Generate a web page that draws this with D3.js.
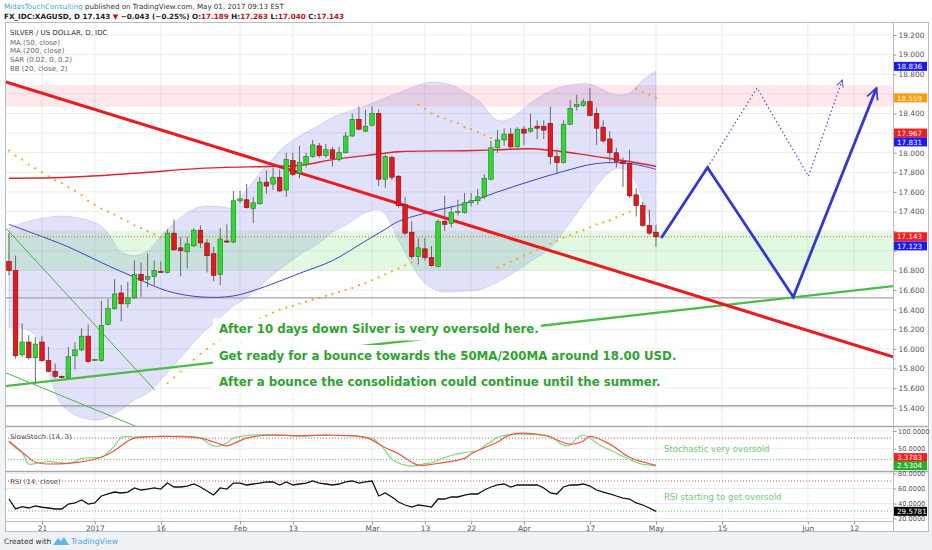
<!DOCTYPE html>
<html>
<head>
<meta charset="utf-8">
<script src="https://cdn.jsdelivr.net/npm/d3@7/dist/d3.min.js"></script>
<style>
body { margin: 0; background: #ffffff; }
svg { display: block; font-family: "DejaVu Sans", Verdana, sans-serif; }
</style>
</head>
<body>
<div id="chart"></div>
<script>
// Silver / US Dollar, daily - TradingView snapshot redrawn with D3

// Section 1: Data
// ===============
// One bar per session, Dec 14 2016 .. May 01 2017.
// Index 0 on the time scale is Dec 21, so the first bar sits at -5.
var firstIndex = -5;

var opens = [16.89, 16.80, 15.94, 16.07, 15.91, 16.07, 15.88, 15.77, 15.72, 15.71,
  15.93, 15.99, 16.13, 15.89, 15.88, 16.25, 16.41, 16.57, 16.46, 16.52,
  16.76, 16.71, 16.74, 16.79, 16.78, 17.18, 17.03, 16.99, 17.05, 17.21,
  17.08, 16.97, 16.76, 17.10, 17.09, 17.51, 17.52, 17.43, 17.48, 17.70,
  17.68, 17.75, 17.62, 17.92, 17.79, 17.88, 17.96, 18.07, 17.97, 18.03,
  17.93, 18.00, 18.17, 18.34, 18.22, 18.28, 18.40, 17.73, 17.95, 17.76,
  17.47, 17.19, 16.94, 17.02, 16.93, 16.84, 17.30, 17.28, 17.39, 17.39,
  17.49, 17.51, 17.55, 17.73, 18.05, 18.13, 18.19, 18.06, 18.24, 18.22,
  18.27, 18.27, 18.30, 17.96, 17.90, 18.29, 18.47, 18.48, 18.52, 18.40,
  18.26, 18.14, 18.00, 17.91, 17.89, 17.57, 17.46, 17.26, 17.189];
var highs = [17.18, 16.95, 16.26, 16.14, 16.12, 16.13, 16.02, 15.85, 15.73, 16.02,
  16.07, 16.21, 16.25, 15.90, 16.49, 16.51, 16.71, 16.65, 16.68, 16.90,
  16.88, 16.97, 16.90, 16.89, 17.22, 17.32, 17.14, 17.14, 17.23, 17.26,
  17.12, 17.04, 17.23, 17.27, 17.61, 17.61, 17.68, 17.55, 17.75, 17.82,
  17.85, 17.83, 18.00, 18.00, 18.07, 18.00, 18.13, 18.10, 18.09, 18.06,
  18.06, 18.21, 18.40, 18.47, 18.44, 18.47, 18.44, 17.98, 17.97, 17.77,
  17.55, 17.30, 17.13, 17.13, 17.05, 17.32, 17.56, 17.46, 17.52, 17.59,
  17.59, 17.63, 17.78, 18.12, 18.23, 18.25, 18.25, 18.26, 18.27, 18.40,
  18.33, 18.33, 18.47, 18.01, 18.33, 18.54, 18.59, 18.55, 18.66, 18.46,
  18.33, 18.22, 18.05, 17.95, 18.03, 17.64, 17.50, 17.42, 17.263];
var lows = [16.75, 15.90, 15.92, 15.89, 15.65, 15.87, 15.77, 15.70, 15.70, 15.70,
  15.79, 15.98, 15.86, 15.88, 15.87, 16.24, 16.40, 16.28, 16.42, 16.51,
  16.53, 16.63, 16.65, 16.78, 16.77, 17.00, 16.74, 16.82, 17.04, 17.03,
  16.78, 16.69, 16.65, 17.08, 17.08, 17.49, 17.43, 17.28, 17.47, 17.58,
  17.62, 17.60, 17.55, 17.76, 17.74, 17.85, 17.95, 17.95, 17.95, 17.86,
  17.91, 17.99, 18.16, 18.23, 18.21, 18.27, 17.66, 17.64, 17.72, 17.44,
  17.16, 16.92, 16.86, 16.90, 16.84, 16.83, 17.20, 17.24, 17.36, 17.38,
  17.45, 17.47, 17.53, 17.72, 18.00, 18.07, 18.04, 18.05, 18.08, 18.20,
  18.14, 18.14, 17.88, 17.78, 17.89, 18.28, 18.43, 18.47, 18.37, 18.08,
  18.10, 17.91, 17.85, 17.65, 17.54, 17.35, 17.24, 17.16, 17.040];
var closes = [16.80, 15.93, 16.07, 15.91, 16.05, 15.88, 15.77, 15.72, 15.71, 15.92,
  15.99, 16.13, 15.87, 15.89, 16.24, 16.41, 16.56, 16.46, 16.52, 16.76,
  16.70, 16.74, 16.80, 16.78, 17.18, 17.01, 17.00, 17.07, 17.21, 17.08,
  16.95, 16.75, 17.12, 17.09, 17.51, 17.53, 17.44, 17.49, 17.70, 17.66,
  17.75, 17.61, 17.93, 17.78, 17.90, 17.96, 18.08, 17.97, 18.03, 17.94,
  18.00, 18.17, 18.34, 18.24, 18.27, 18.40, 17.73, 17.96, 17.75, 17.46,
  17.18, 16.94, 17.03, 16.93, 16.85, 17.30, 17.27, 17.39, 17.40, 17.49,
  17.51, 17.55, 17.74, 18.05, 18.13, 18.19, 18.06, 18.24, 18.20, 18.25,
  18.25, 18.23, 17.96, 17.90, 18.29, 18.45, 18.49, 18.52, 18.38, 18.25,
  18.12, 18.00, 17.91, 17.89, 17.56, 17.46, 17.26, 17.18, 17.143];

// Indicators read at a few bars (bar numbers count from 1)
var ma50Bars = [1, 5, 10, 15, 20, 25, 30, 35, 40, 45, 50, 55, 58, 60, 65, 70, 75, 80, 85, 90, 95, 99];
var ma50Vals = [17.27, 17.17, 17.04, 16.88, 16.73, 16.59, 16.53, 16.54, 16.64, 16.77, 16.90, 17.10,
  17.22, 17.30, 17.40, 17.48, 17.60, 17.71, 17.81, 17.89, 17.89, 17.83];

var ma200Bars = [1, 10, 20, 30, 40, 45, 50, 55, 60, 70, 75, 80, 85, 90, 95, 99];
var ma200Vals = [17.74, 17.75, 17.79, 17.84, 17.86, 17.87, 17.93, 17.97, 18.01, 18.02, 18.03,
  18.04, 18.01, 17.96, 17.91, 17.86];

var bbUpBars = [1, 5, 10, 15, 18, 20, 22, 25, 28, 30, 33, 35, 37, 40, 43, 45, 48, 50, 55, 58,
  60, 63, 65, 68, 70, 72, 75, 77, 80, 83, 86, 89, 91, 93, 95, 97, 99];
var bbUpVals = [17.23, 17.32, 17.35, 17.25, 16.99, 16.95, 17.00, 17.22, 17.39, 17.45, 17.45, 17.44,
  17.62, 17.87, 18.08, 18.17, 18.28, 18.36, 18.48, 18.56, 18.61, 18.69, 18.72, 18.69, 18.62,
  18.54, 18.33, 18.35, 18.51, 18.63, 18.69, 18.70, 18.64, 18.59, 18.61, 18.74, 18.836];

var bbLoBars = [1, 3, 5, 7, 9, 12, 15, 18, 20, 22, 25, 28, 30, 33, 35, 37, 40, 43, 45, 48,
  50, 52, 55, 57, 58, 60, 62, 64, 66, 68, 70, 72, 75, 78, 80, 83, 86, 89, 91, 93, 95, 97, 99];
var bbLoVals = [16.22, 16.21, 16.14, 15.76, 15.43, 15.30, 15.28, 15.38, 15.48, 15.55, 15.76, 15.99,
  16.14, 16.32, 16.44, 16.52, 16.70, 16.86, 16.96, 17.08, 17.19, 17.26, 17.39, 17.42, 17.37,
  17.11, 16.86, 16.67, 16.59, 16.58, 16.59, 16.60, 16.68, 16.80, 16.89, 17.03, 17.29, 17.57,
  17.74, 17.84, 17.80, 17.52, 17.123];

// Parabolic SAR, one dot per bar
var sarVals = [18.02, 17.97, 17.93, 17.88, 17.84, 17.80, 17.76, 17.72, 17.69, 17.65,
  17.61, 17.57, 17.51, 17.47, 17.43, 17.40, 17.37, 17.33, 17.30, 17.26,
  17.23, 17.20, 17.17, 17.14, 15.65, 15.71, 15.77, 15.83, 15.89, 15.95,
  16.00, 16.05, 16.09, 16.13, 16.17, 16.21, 16.25, 16.28, 16.31, 16.34,
  16.37, 16.40, 16.42, 16.44, 16.46, 16.48, 16.50, 16.52, 16.54, 16.56,
  16.58, 16.60, 16.62, 16.65, 16.67, 16.70, 16.73, 16.76, 16.79, 16.82,
  16.85, 16.88, 18.49, 18.45, 18.40, 18.37, 18.35, 18.32, 18.30, 18.26,
  18.24, 18.21, 18.18, 18.15, 16.83, 16.86, 16.89, 16.92, 16.95, 16.98,
  17.01, 17.04, 17.07, 17.10, 17.13, 17.16, 17.19, 17.21, 17.24, 17.27,
  17.29, 17.31, 17.34, 17.37, 17.40, 18.65, 18.62, 18.59, 18.559];

var stochKBars = [1, 2, 3, 4, 5, 6, 7, 8, 9, 10, 11, 12, 13, 14, 15, 16, 17, 18, 19, 20,
  22, 25, 28, 30, 31, 32, 33, 34, 35, 37, 40, 43, 45, 48, 50, 53, 55, 56, 57, 58,
  59, 60, 61, 62, 63, 64, 65, 66, 67, 68, 70, 72, 73, 74, 75, 77, 80, 83, 84, 85,
  86, 87, 88, 89, 90, 91, 92, 93, 94, 95, 96, 97, 98, 99];
var stochKVals = [69, 53, 39, 7, 9, 12, 14, 12, 10, 9, 14, 23, 24, 25, 26, 40, 58, 82, 84, 83,
  84, 85, 85, 80, 68, 58, 58, 66, 80, 87, 90, 88, 85, 88, 88, 86, 82, 80, 66, 45,
  20, 10, 4, 1, 3, 8, 10, 18, 25, 31, 39, 45, 58, 70, 82, 90, 90, 85, 72, 60,
  60, 80, 88, 80, 66, 55, 47, 38, 28, 20, 12, 6, 4, 2.5304];
var stochDBars = [1, 4, 5, 10, 15, 17, 19, 20, 25, 30, 33, 34, 37, 40, 45, 50, 55, 58, 60, 63,
  66, 70, 71, 75, 77, 82, 86, 88, 89, 92, 95, 99];
var stochDVals = [72, 25, 12, 9, 26, 45, 72, 80, 85, 80, 63, 58, 80, 88, 87, 88, 82, 53, 36, 4,
  9, 23, 36, 69, 90, 88, 63, 72, 85, 63, 26, 3.3783];

var rsiVals = [46, 32.7, 35.7, 34, 36.7, 35, 34, 32.7, 32.7, 39.3,
  40.7, 44.7, 39.3, 40.7, 50, 52.7, 55.3, 54, 55.3, 60.7,
  58, 59.3, 60.7, 59.3, 67.3, 62, 62, 63.3, 66, 62,
  56.7, 51.3, 60.7, 59.3, 67.3, 67.3, 64.7, 66, 67.3, 68.7,
  68.7, 64.7, 68.7, 64.7, 66, 67.3, 70, 67.3, 66, 64.7,
  66, 68.7, 70, 67.3, 68.7, 70, 50, 54, 48.7, 42,
  38, 35.3, 38, 36.7, 35.3, 46, 46, 48.7, 48.7, 51.3,
  52.7, 52.7, 58, 62, 64.7, 66, 62, 64.7, 64.7, 64.7,
  64.7, 60.7, 54, 52.7, 62, 64.7, 64.7, 66, 63.3, 58,
  55.3, 52.7, 50, 47.3, 46, 40.7, 38, 34, 29.5781];

// Drawings: [session index, price]
var resistanceLine = [[-5.6, 18.725], [128.9, 15.918]];
var supportLine = [[-5.6, 15.62], [128.9, 16.64]];
var thinLineA = [[-5.6, 17.24], [17.1, 15.58]];
var thinLineB = [[-5.6, 15.76], [14.6, 15.20]];
var projectionMain = [[93.8, 17.13], [100.8, 17.85], [113.8, 16.53], [126.4, 18.66]];
var projectionAlt = [[100.8, 17.85], [108.3, 18.66], [116.1, 17.76], [121.2, 18.74]];
var redZone = [18.47, 18.69];
var greenZone = [16.80, 17.19];
var greyLevels = [16.52, 15.42];

// Time axis
var tickIndex = [0, 8, 18, 30, 38, 50, 58, 65, 73, 83, 93, 103, 116, 123];
var tickText = ["21", "2017", "16", "Feb", "13", "Mar", "13", "22", "Apr", "17", "May", "15", "Jun", "12"];

// Price axis (some labels sit under the price tags)
var priceTicks = [19.2, 19.0, 18.8, 18.6, 18.4, 18.2, 18.0, 17.8, 17.6, 17.4, 17.2, 17.0,
  16.8, 16.6, 16.4, 16.2, 16.0, 15.8, 15.6, 15.4];
var hiddenTicks = [18.6, 18.2, 17.2, 17.0];
var tagText = ["18.836", "18.559", "17.967", "17.831", "17.143", "17.123"];
var tagAt = [18.88, 18.559, 18.20, 18.11, 17.143, 17.05];
var tagColor = ["#1a1aff", "#ff9a00", "#ff1a1a", "#1a1aff", "#ff1a1a", "#1a1aff"];

var stochTicks = [100, 50];
var rsiTicks = [80, 60, 40, 20];

var notes = [
  "After 10 days down Silver is very oversold here.",
  "Get ready for a bounce towards the 50MA/200MA around 18.00 USD.",
  "After a bounce the consolidation could continue until the summer."
];
var notePrices = [16.157, 15.887, 15.622];

// Section 2: Layout
// =================
var width = 932;
var height = 550;
var plotLeft = 5;
var plotRight = 893;
var frameRight = 928;
var mainTop = 22;
var mainBottom = 426;
var stochBottom = 471;
var rsiBottom = 521;
var timeBottom = 531;

var svg = d3.select("#chart")
  .append("svg")
  .attr("width", width)
  .attr("height", height);

var defs = svg.append("defs");
var bg = defs.append("linearGradient").attr("id", "bg").attr("x1", 0).attr("y1", 0).attr("x2", 0).attr("y2", 1);
bg.append("stop").attr("offset", "0").attr("stop-color", "#ffffff");
bg.append("stop").attr("offset", "1").attr("stop-color", "#eef2f6");
svg.append("rect").attr("width", width).attr("height", height).attr("fill", "url(#bg)");

// plot areas are white
svg.append("rect")
  .attr("x", plotLeft).attr("y", mainTop)
  .attr("width", frameRight - plotLeft).attr("height", timeBottom - mainTop)
  .attr("fill", "#ffffff");

function clip(id, y0, y1) {
  defs.append("clipPath").attr("id", id)
    .append("rect")
    .attr("x", plotLeft).attr("y", y0)
    .attr("width", plotRight - plotLeft).attr("height", y1 - y0);
}
clip("clipMain", mainTop, mainBottom);
clip("clipStoch", mainBottom, stochBottom);
clip("clipRsi", stochBottom, rsiBottom);

var xScale = d3.scaleLinear().domain([-5.6, 128.9]).range([plotLeft, plotRight]);
var yScale = d3.scaleLinear().domain([15.214, 19.3325]).range([mainBottom, mainTop]);
var stochScale = d3.scaleLinear().domain([0, 100]).range([466.5, 431]);
var rsiScale = d3.scaleLinear().domain([0, 100]).range([533.5, 458.5]);

function barIndex(n) {
  return n - 1 + firstIndex;
}

function pairs(bars, vals) {
  return bars.map(function(b, k) { return [barIndex(b), vals[k]]; });
}

// Section 3: Grid
// ===============
var grid = svg.append("g").attr("class", "grid");

grid.selectAll("line.v")
  .data(tickIndex)
  .enter()
  .append("line")
  .attr("x1", function(d) { return xScale(d); })
  .attr("x2", function(d) { return xScale(d); })
  .attr("y1", mainTop)
  .attr("y2", rsiBottom)
  .attr("stroke", "#ececef");

grid.selectAll("line.h")
  .data(priceTicks)
  .enter()
  .append("line")
  .attr("x1", plotLeft)
  .attr("x2", plotRight)
  .attr("y1", function(d) { return yScale(d); })
  .attr("y2", function(d) { return yScale(d); })
  .attr("stroke", "#ececef");

grid.selectAll("line.s")
  .data(stochTicks)
  .enter()
  .append("line")
  .attr("x1", plotLeft).attr("x2", plotRight)
  .attr("y1", function(d) { return stochScale(d); })
  .attr("y2", function(d) { return stochScale(d); })
  .attr("stroke", "#ececef");

grid.selectAll("line.r")
  .data(rsiTicks)
  .enter()
  .append("line")
  .attr("x1", plotLeft).attr("x2", plotRight)
  .attr("y1", function(d) { return rsiScale(d); })
  .attr("y2", function(d) { return rsiScale(d); })
  .attr("stroke", "#ececef");

// Section 4: Main pane
// ====================
var main = svg.append("g").attr("clip-path", "url(#clipMain)");

var smooth = d3.line()
  .x(function(d) { return xScale(d[0]); })
  .y(function(d) { return yScale(d[1]); })
  .curve(d3.curveCatmullRom.alpha(0.5));

var straight = d3.line()
  .x(function(d) { return xScale(d[0]); })
  .y(function(d) { return yScale(d[1]); });

// Bollinger band fill: upper edge forward, lower edge back
var upperPts = pairs(bbUpBars, bbUpVals);
var lowerPts = pairs(bbLoBars, bbLoVals).reverse();
main.append("path")
  .attr("d", smooth(upperPts) + "L" + smooth(lowerPts).slice(1) + "Z")
  .attr("fill", "#6b6be0")
  .attr("fill-opacity", 0.2)
  .attr("stroke", "#8d8de6")
  .attr("stroke-opacity", 0.35)
  .attr("stroke-width", 0.8);

// zones
main.append("rect")
  .attr("x", plotLeft).attr("width", plotRight - plotLeft)
  .attr("y", yScale(redZone[1]))
  .attr("height", yScale(redZone[0]) - yScale(redZone[1]))
  .attr("fill", "#f25a78")
  .attr("fill-opacity", 0.14);

main.append("rect")
  .attr("x", plotLeft).attr("width", plotRight - plotLeft)
  .attr("y", yScale(greenZone[1]))
  .attr("height", yScale(greenZone[0]) - yScale(greenZone[1]))
  .attr("fill", "#4fd84f")
  .attr("fill-opacity", 0.17);

main.selectAll("line.level")
  .data(greyLevels)
  .enter()
  .append("line")
  .attr("x1", plotLeft).attr("x2", plotRight)
  .attr("y1", function(d) { return yScale(d); })
  .attr("y2", function(d) { return yScale(d); })
  .attr("stroke", "#a3a3a8")
  .attr("stroke-width", 1.4);

// moving averages
main.append("path")
  .attr("d", smooth(pairs(ma200Bars, ma200Vals)))
  .attr("fill", "none")
  .attr("stroke", "#d8262c")
  .attr("stroke-width", 1.4);

main.append("path")
  .attr("d", smooth(pairs(ma50Bars, ma50Vals)))
  .attr("fill", "none")
  .attr("stroke", "#3c46c0")
  .attr("stroke-width", 1);

// parabolic SAR dots
main.selectAll("circle.sar")
  .data(sarVals)
  .enter()
  .append("circle")
  .attr("cx", function(d, k) { return xScale(k + firstIndex); })
  .attr("cy", function(d) { return yScale(d); })
  .attr("r", 1.1)
  .attr("fill", "#f5a623");

// hand drawn trend lines
main.append("path").attr("d", straight(thinLineA))
  .attr("stroke", "#49b449").attr("stroke-width", 1).attr("fill", "none");
main.append("path").attr("d", straight(thinLineB))
  .attr("stroke", "#49b449").attr("stroke-width", 1).attr("fill", "none");
main.append("path").attr("d", straight(supportLine))
  .attr("stroke", "#4cbb47").attr("stroke-width", 2.4).attr("fill", "none");
main.append("path").attr("d", straight(resistanceLine))
  .attr("stroke", "#ea1a1f").attr("stroke-width", 3).attr("fill", "none");

// last price line
main.append("line")
  .attr("x1", plotLeft).attr("x2", plotRight)
  .attr("y1", yScale(closes[closes.length - 1]))
  .attr("y2", yScale(closes[closes.length - 1]))
  .attr("stroke", "#e8603c")
  .attr("stroke-dasharray", "1,2");

// candles
var bars = d3.range(opens.length).map(function(k) {
  return { i: k + firstIndex, o: opens[k], h: highs[k], l: lows[k], c: closes[k] };
});
var bodyW = 4.6;

var candle = main.selectAll("g.candle")
  .data(bars)
  .enter()
  .append("g")
  .attr("class", "candle");

candle.append("line")
  .attr("x1", function(d) { return xScale(d.i); })
  .attr("x2", function(d) { return xScale(d.i); })
  .attr("y1", function(d) { return yScale(d.h); })
  .attr("y2", function(d) { return yScale(d.l); })
  .attr("stroke", "#6a6a6a")
  .attr("stroke-width", 1);

candle.append("rect")
  .attr("x", function(d) { return xScale(d.i) - bodyW / 2; })
  .attr("y", function(d) { return yScale(Math.max(d.o, d.c)); })
  .attr("width", bodyW)
  .attr("height", function(d) { return Math.max(1, Math.abs(yScale(d.o) - yScale(d.c))); })
  .attr("fill", function(d) { return d.c >= d.o ? "#33d633" : "#e3191f"; })
  .attr("stroke", function(d) { return d.c >= d.o ? "#237a23" : "#7c1214"; })
  .attr("stroke-width", 0.6);

// note text with white boxes behind
var noteG = svg.append("g");
var noteText = noteG.selectAll("text")
  .data(notes)
  .enter()
  .append("text")
  .attr("x", xScale(26.8))
  .attr("y", function(d, k) { return yScale(notePrices[k]); })
  .attr("font-size", 11.8)
  .attr("font-weight", "bold")
  .attr("fill", "#2fa32f")
  .text(function(d) { return d; });

noteText.each(function() {
  var b = this.getBBox();
  noteG.insert("rect", "text")
    .attr("x", b.x - 6).attr("y", b.y - 4)
    .attr("width", b.width + 8).attr("height", b.height + 8)
    .attr("fill", "#ffffff");
});

// projection arrows
defs.append("marker")
  .attr("id", "arrowSolid")
  .attr("viewBox", "0 0 10 10")
  .attr("refX", 9).attr("refY", 5)
  .attr("markerWidth", 5).attr("markerHeight", 5)
  .attr("markerUnits", "strokeWidth")
  .attr("orient", "auto")
  .append("path")
  .attr("d", "M1,1 L9,5 L1,9")
  .attr("fill", "none")
  .attr("stroke", "#3535d8")
  .attr("stroke-width", 1.2);

defs.append("marker")
  .attr("id", "arrowDot")
  .attr("viewBox", "0 0 10 10")
  .attr("refX", 9).attr("refY", 5)
  .attr("markerWidth", 7).attr("markerHeight", 7)
  .attr("markerUnits", "strokeWidth")
  .attr("orient", "auto")
  .append("path")
  .attr("d", "M1,1 L9,5 L1,9")
  .attr("fill", "none")
  .attr("stroke", "#5050d8")
  .attr("stroke-width", 1.2);

svg.append("path")
  .attr("d", straight(projectionAlt))
  .attr("fill", "none")
  .attr("stroke", "#5050d8")
  .attr("stroke-width", 1.2)
  .attr("stroke-dasharray", "1.5,2.5")
  .attr("marker-end", "url(#arrowDot)");

svg.append("path")
  .attr("d", straight(projectionMain))
  .attr("fill", "none")
  .attr("stroke", "#3535d8")
  .attr("stroke-width", 2.8)
  .attr("stroke-linejoin", "miter")
  .attr("marker-end", "url(#arrowSolid)");

// legend
var legend = svg.append("g").attr("font-size", 7).attr("fill", "#666");
legend.append("text").attr("x", 10).attr("y", 35).attr("fill", "#333")
  .text("SILVER / US DOLLAR, D, IDC");
["MA (50, close)", "MA (200, close)", "SAR (0.02, 0, 0.2)", "BB (20, close, 2)"].forEach(function(t, k) {
  legend.append("text").attr("x", 10).attr("y", 44.5 + k * 8.8).text(t);
});

// Section 5: Oscillator panes
// ===========================
var stoch = svg.append("g").attr("clip-path", "url(#clipStoch)");
var rsi = svg.append("g").attr("clip-path", "url(#clipRsi)");

function level(g, scale, v, color) {
  g.append("line")
    .attr("x1", plotLeft).attr("x2", plotRight)
    .attr("y1", scale(v)).attr("y2", scale(v))
    .attr("stroke", color)
    .attr("stroke-dasharray", "1,2");
}
level(stoch, stochScale, 80, "#e05050");
level(stoch, stochScale, 20, "#5cc45c");
level(rsi, rsiScale, 70, "#e05050");
level(rsi, rsiScale, 30, "#5cc45c");

var stochLine = d3.line()
  .x(function(d) { return xScale(d[0]); })
  .y(function(d) { return stochScale(d[1]); })
  .curve(d3.curveCatmullRom.alpha(0.5));

stoch.append("path")
  .attr("d", stochLine(pairs(stochKBars, stochKVals)))
  .attr("fill", "none")
  .attr("stroke", "#7fdc7f")
  .attr("stroke-width", 1.2);

stoch.append("path")
  .attr("d", stochLine(pairs(stochDBars, stochDVals)))
  .attr("fill", "none")
  .attr("stroke", "#ee5547")
  .attr("stroke-width", 1.2);

var rsiLine = d3.line()
  .x(function(d, k) { return xScale(k + firstIndex); })
  .y(function(d) { return rsiScale(d); });

rsi.append("path")
  .attr("d", rsiLine(rsiVals))
  .attr("fill", "none")
  .attr("stroke", "#111")
  .attr("stroke-width", 1.3);

svg.append("text").attr("x", 10).attr("y", 438.5).attr("font-size", 7).attr("fill", "#555")
  .text("SlowStoch (14, 3)");
svg.append("text").attr("x", 10).attr("y", 483.5).attr("font-size", 7).attr("fill", "#555")
  .text("RSI (14, close)");

svg.append("text").attr("x", xScale(94.2)).attr("y", 452).attr("font-size", 8.6).attr("fill", "#74c974")
  .text("Stochastic very oversold");
svg.append("text").attr("x", xScale(94.2)).attr("y", 500).attr("font-size", 8.6).attr("fill", "#74c974")
  .text("RSI starting to get oversold");

// Section 6: Frames and axes
// ==========================
var frame = svg.append("g").attr("fill", "none").attr("stroke", "#b9bcc2");
frame.append("rect").attr("x", plotLeft + 0.5).attr("y", mainTop + 0.5)
  .attr("width", frameRight - plotLeft).attr("height", timeBottom - mainTop);
frame.append("line").attr("x1", plotRight + 0.5).attr("x2", plotRight + 0.5)
  .attr("y1", mainTop).attr("y2", timeBottom);
[mainBottom, stochBottom].forEach(function(y) {
  frame.append("line").attr("x1", plotLeft).attr("x2", frameRight)
    .attr("y1", y + 0.5).attr("y2", y + 0.5).attr("stroke", "#a8abb2").attr("stroke-width", 1.5);
});
frame.append("line").attr("x1", plotLeft).attr("x2", plotRight)
  .attr("y1", rsiBottom + 0.5).attr("y2", rsiBottom + 0.5);

function styleAxis(size) {
  return function(g) {
    g.select(".domain").remove();
    g.selectAll(".tick line").attr("stroke", "#999");
    g.selectAll(".tick text").attr("fill", "#555").attr("font-size", size)
      .attr("font-family", "\"DejaVu Sans\", Verdana, sans-serif");
  };
}

svg.append("g")
  .attr("transform", "translate(" + (plotRight + 0.5) + ",0)")
  .call(d3.axisRight(yScale).tickValues(priceTicks)
    .tickFormat(function(d) { return hiddenTicks.indexOf(d) >= 0 ? "" : d3.format(".3f")(d); })
    .tickSize(3).tickPadding(2))
  .call(styleAxis(7.4));

svg.append("g")
  .attr("transform", "translate(" + (plotRight + 0.5) + ",0)")
  .call(d3.axisRight(stochScale).tickValues(stochTicks).tickFormat(d3.format(".4f")).tickSize(3).tickPadding(1.5))
  .call(styleAxis(6.6));

svg.append("g")
  .attr("transform", "translate(" + (plotRight + 0.5) + ",0)")
  .call(d3.axisRight(rsiScale).tickValues(rsiTicks).tickFormat(d3.format(".4f")).tickSize(3).tickPadding(1.5))
  .call(styleAxis(6.6));

svg.append("g")
  .attr("transform", "translate(0," + (rsiBottom + 0.5) + ")")
  .call(d3.axisBottom(xScale).tickValues(tickIndex)
    .tickFormat(function(d, k) { return tickText[k]; }).tickSize(3).tickPadding(1))
  .call(styleAxis(7.4));

// price tags on the axis
function tag(y, txt, color) {
  svg.append("rect")
    .attr("x", plotRight + 1).attr("y", y - 4.5)
    .attr("width", 33).attr("height", 9)
    .attr("fill", color);
  svg.append("text")
    .attr("x", plotRight + 4).attr("y", y + 2.7)
    .attr("font-size", 7.2).attr("fill", "#fff")
    .text(txt);
}
tagText.forEach(function(t, k) { tag(yScale(tagAt[k]), t, tagColor[k]); });
tag(stochScale(25), "3.3783", "#ff1a1a");
tag(stochScale(stochKVals[stochKVals.length - 1]), "2.5304", "#22b022");
tag(rsiScale(rsiVals[rsiVals.length - 1]), "29.5781", "#000");

// Section 7: Header and footer
// ============================
var head = svg.append("g");
var h1 = head.append("text").attr("x", 4).attr("y", 8.5).attr("font-size", 7.1);
h1.append("tspan").attr("fill", "#3fa9dc").text("MidasTouchConsulting");
h1.append("tspan").attr("fill", "#333").text(" published on TradingView.com, May 01, 2017 09:13 EST");

var h2 = head.append("text").attr("x", 4).attr("y", 18.5).attr("fill", "#222")
  .attr("font-size", 7.2).attr("font-weight", "bold");
h2.append("tspan").text("FX_IDC:XAGUSD, D");
h2.append("tspan").text(" 17.143 ");
h2.append("tspan").attr("fill", "#d0101a").text("\u25BC");
h2.append("tspan").text(" \u22120.043 (\u22120.25%) O:");
h2.append("tspan").attr("fill", "#c0101a").text("17.189");
h2.append("tspan").text(" H:");
h2.append("tspan").attr("fill", "#c0101a").text("17.263");
h2.append("tspan").text(" L:");
h2.append("tspan").attr("fill", "#c0101a").text("17.040");
h2.append("tspan").text(" C:");
h2.append("tspan").attr("fill", "#c0101a").text("17.143");

var foot = svg.append("g");
foot.append("text").attr("x", 4).attr("y", 544).attr("font-size", 7.4).attr("fill", "#333")
  .text("Created with");
foot.append("path")
  .attr("d", "M53,545 L58,538 L61,541 L64,537 L69,545 Z")
  .attr("fill", "#5fb7e8");
foot.append("text").attr("x", 71).attr("y", 544).attr("font-size", 7.8).attr("fill", "#49a9e0")
  .text("TradingView");
</script>
</body>
</html>
